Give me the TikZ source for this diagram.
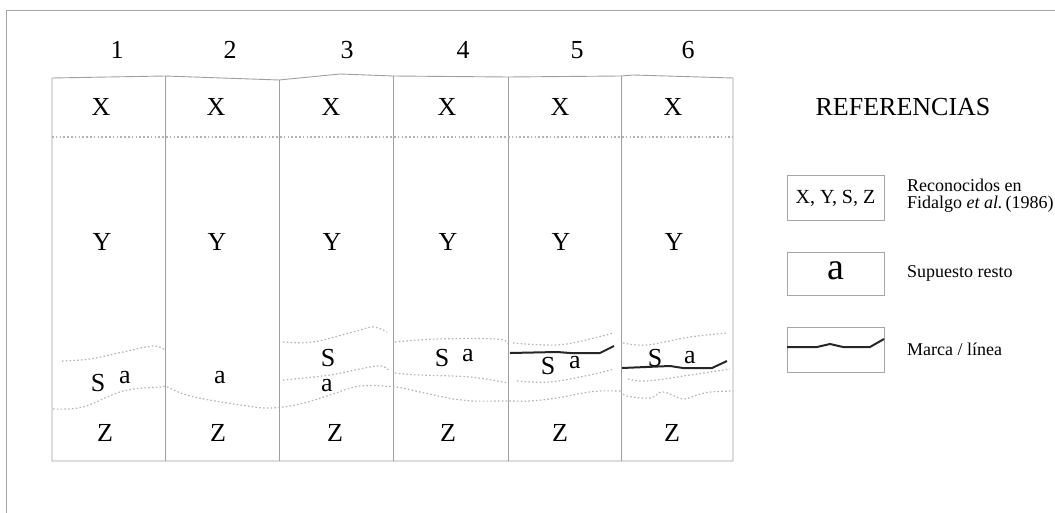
\documentclass[tikz,border=0pt]{standalone}
\usepackage{fontspec}
\setmainfont{Liberation Serif}
\begin{document}
\begin{tikzpicture}[x=1pt,y=-1pt,
  frame/.style={draw=gray!70, line width=0.9pt},
  colline/.style={draw=gray!75, line width=0.9pt},
  strat/.style={draw=gray!60, line width=1.2pt, dash pattern=on 1.5pt off 2.3pt},
  marker/.style={draw=black!85, line width=2pt},
  lbl/.style={font=\fontsize{26}{26}\selectfont, inner sep=0pt},
  num/.style={font=\fontsize{26}{26}\selectfont, inner sep=0pt},
  leg/.style={font=\fontsize{18}{17}\selectfont, inner sep=0pt, anchor=west, align=left},
  legbox/.style={draw=gray!70, line width=0.9pt}
]
\useasboundingbox (0,0) rectangle (1055,513);
% outer frame
\draw[frame] (1055,10) -- (6,10) -- (6,513);
% column frame
\draw[colline] (52,78) -- (165,76) -- (279,80) -- (340,74) -- (393,76) -- (508,77) -- (621,76) -- (633,75) -- (733,78)
  -- (733,461) -- (52,461) -- cycle;
\foreach \x/\t in {165/76,279/80,393/76,508/77,621/76}
  \draw[colline] (\x,\t) -- (\x,461);
% numbers
\foreach \n/\x in {1/117,2/230,3/347,4/463,5/577,6/688}
  \node[num] (n\n) at (\x,50) {\n};
% X Y Z labels
\foreach \i/\x in {1/101,2/216,3/331,4/447,5/560,6/673}{
  \node[lbl] (x\i) at (\x,107) {X};
  \node[lbl] (y\i) at (\x+1,242) {Y};
}
\foreach \i/\x in {1/105,2/218,3/335,4/448,5/560,6/672}
  \node[lbl] (z\i) at (\x,433) {Z};
% top dotted boundary
\draw[strat] (52,137) -- (733,137);
% long lower dotted line
\draw[strat] plot[smooth, tension=0.6] coordinates {(53,409) (83,407) (123,391) (160,387) (167,387) (190,396) (240,405) (270,408) (300,404) (330,395) (360,386) (395,387) (420,392) (453,399) (470,401) (508,401) (530,401) (557,398) (583,393) (600,391) (621,391)};
\draw[strat] plot[smooth, tension=0.6] coordinates {(621,391) (627,396) (650,398) (663,392) (683,399) (697,395) (710,392) (733,391)};
% col 1 upper
\draw[strat] plot[smooth, tension=0.6] coordinates {(62,361) (90,359) (123,352) (153,346) (165,350)};
% col 3
\draw[strat] plot[smooth, tension=0.6] coordinates {(283,342) (313,342) (353,332) (373,327) (387,332)};
\draw[strat] plot[smooth, tension=0.6] coordinates {(283,380) (330,375) (377,366) (388,370)};
% col 4
\draw[strat] plot[smooth, tension=0.6] coordinates {(395,342) (437,339) (497,339) (508,344)};
\draw[strat] plot[smooth, tension=0.6] coordinates {(395,373) (420,375) (470,377) (508,383)};
% col 5
\draw[strat] plot[smooth, tension=0.6] coordinates {(513,343) (557,345) (590,339) (613,333)};
\draw[strat] plot[smooth, tension=0.6] coordinates {(517,381) (550,382) (590,375) (614,369)};
% col 6
\draw[strat] plot[smooth, tension=0.6] coordinates {(623,343) (647,345) (690,337) (727,333)};
\draw[strat] plot[smooth, tension=0.6] coordinates {(628,379) (647,381) (690,375) (730,369)};
% marker lines
\draw[marker] (510,353) -- (557,352) -- (570,353) -- (600,353) -- (614,346);
\draw[marker] (622,368) -- (670,366) -- (683,368) -- (712,368) -- (727,361);
% S and a labels
\node[lbl] (s1) at (98,383) {S};
\node[lbl] (a1) at (125,378) {a};
\node[lbl] (a2) at (220,378) {a};
\node[lbl] (s3) at (328,358) {S};
\node[lbl] (a3) at (327,386) {a};
\node[lbl] (s4) at (442,358) {S};
\node[lbl] (a4) at (468,356) {a};
\node[lbl] (s5) at (548,366) {S};
\node[lbl] (a5) at (575,363) {a};
\node[lbl] (s6) at (655,358) {S};
\node[lbl] (a6) at (690,358) {a};
% legend
\node[font=\fontsize{26}{26}\selectfont, inner sep=0pt] (ref) at (903,107) {REFERENCIAS};
\draw[legbox] (787,175) rectangle (884,220);
\node[font=\fontsize{20}{20}\selectfont, inner sep=0pt] (k1) at (835.5,198) {X, Y, S, Z};
\node[leg] (t1) at (907,196) {Reconocidos en\\Fidalgo \textit{et al.}\,(1986)};
\draw[legbox] (787,252) rectangle (884,295);
\node[font=\fontsize{38}{38}\selectfont, inner sep=0pt] (k2) at (835.5,271) {a};
\node[leg] (t2) at (907,273) {Supuesto resto};
\draw[legbox] (787,327) rectangle (884,372);
\draw[marker] (787,347) -- (817,347) -- (830,344) -- (843,347) -- (870,347) -- (884,339);
\node[leg] (t3) at (907,349) {Marca / línea};
\end{tikzpicture}
\end{document}
